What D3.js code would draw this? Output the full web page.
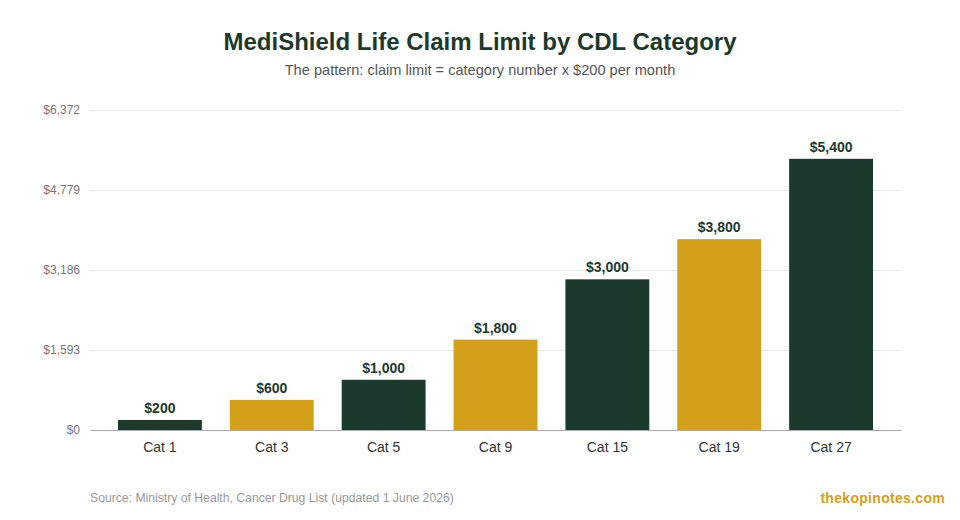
<!DOCTYPE html>
<html>
<head>
<meta charset="utf-8">
<script src="https://cdn.jsdelivr.net/npm/d3@7"></script>
<style>
  body { margin: 0; background: #fff; }
  svg { font-family: "Liberation Sans", Arial, sans-serif; }
</style>
</head>
<body>
<svg id="chart" width="960" height="520"></svg>
<script>
const categories = ['Cat 1', 'Cat 3', 'Cat 5', 'Cat 9', 'Cat 15', 'Cat 19', 'Cat 27']
const limits = [200, 600, 1000, 1800, 3000, 3800, 5400]
const yTicks = [0, 1593, 3186, 4779, 6372]

const DARK = '#1c3a2b'
const GOLD = '#d4a01a'

const width = 960
const height = 520
const margin = { top: 110, right: 59, bottom: 90, left: 90 }

const svg = d3.select('#chart')

const x = d3.scaleBand()
  .domain(categories)
  .range([margin.left, width - margin.right])
  .paddingInner(0.25)
  .paddingOuter(0.25)

const y = d3.scaleLinear()
  .domain([0, d3.max(yTicks)])
  .range([height - margin.bottom, margin.top])

// Title
svg.append('text')
  .attr('x', width / 2)
  .attr('y', 50)
  .attr('text-anchor', 'middle')
  .style('font-size', '24px')
  .style('font-weight', 'bold')
  .style('fill', DARK)
  .text('MediShield Life Claim Limit by CDL Category')

svg.append('text')
  .attr('x', width / 2)
  .attr('y', 75)
  .attr('text-anchor', 'middle')
  .style('font-size', '14.6px')
  .style('fill', '#555')
  .text('The pattern: claim limit = category number x $200 per month')

// Gridlines + y labels
let yAxis = svg.append('g')
  .attr('transform', `translate(${margin.left},0)`)
  .call(d3.axisLeft(y)
    .tickValues(yTicks)
    .tickSize(-(width - margin.left - margin.right))
    .tickPadding(10)
    .tickFormat(d => '$' + d3.format(',')(d)))

yAxis.select('.domain').remove()
yAxis.selectAll('.tick line').attr('stroke', '#e6e6e6')
yAxis.selectAll('.tick text')
  .style('font-size', '12px')
  .style('fill', '#777')
  .style('font-family', '"Liberation Sans", Arial, sans-serif')

// Bars
svg.append('g')
  .selectAll('rect')
  .data(limits)
  .join('rect')
  .attr('x', (d, i) => x(categories[i]))
  .attr('y', d => y(d))
  .attr('width', x.bandwidth())
  .attr('height', d => y(0) - y(d))
  .attr('fill', (d, i) => (i % 2 === 0 ? DARK : GOLD))

// Value labels
svg.append('g')
  .selectAll('text')
  .data(limits)
  .join('text')
  .attr('x', (d, i) => x(categories[i]) + x.bandwidth() / 2)
  .attr('y', d => y(d) - 7)
  .attr('text-anchor', 'middle')
  .style('font-size', '14px')
  .style('font-weight', 'bold')
  .style('fill', DARK)
  .text(d => '$' + d3.format(',')(d))

// X axis
let xAxis = svg.append('g')
  .attr('transform', `translate(0,${y(0)})`)
  .call(d3.axisBottom(x).tickSize(0).tickPadding(12))

xAxis.select('.domain').attr('stroke', '#aaa')
xAxis.selectAll('.tick text')
  .style('font-size', '14px')
  .style('fill', '#333')
  .style('font-family', '"Liberation Sans", Arial, sans-serif')

// Footer
svg.append('text')
  .attr('x', margin.left)
  .attr('y', 502)
  .style('font-size', '12.2px')
  .style('fill', '#999')
  .text('Source: Ministry of Health, Cancer Drug List (updated 1 June 2026)')

svg.append('text')
  .attr('x', 945)
  .attr('y', 503)
  .attr('text-anchor', 'end')
  .style('font-size', '14px')
  .style('font-weight', 'bold')
  .style('letter-spacing', '0.3px')
  .style('fill', GOLD)
  .text('thekopinotes.com')
</script>
</body>
</html>
